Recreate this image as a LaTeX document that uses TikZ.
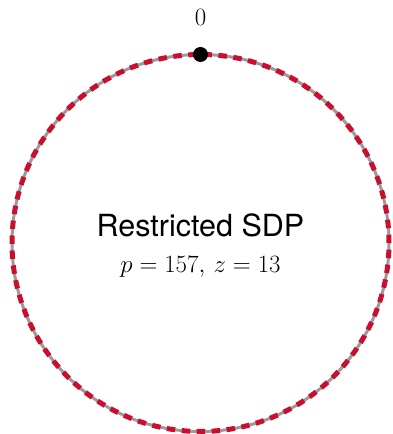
\documentclass[tikz,border=0pt]{standalone}
\usepackage{fontspec}
\setsansfont{TeX Gyre Heros}
\definecolor{ringred}{RGB}{200,16,46}
\definecolor{ringgrey}{RGB}{155,155,155}
\tikzset{
  ringbase/.style={draw=ringgrey, line width=3pt},
  ringdash/.style={draw=ringred, line width=5pt, dash pattern=on 8.5pt off 6.49pt, dash phase=-3pt},
  topdot/.style={circle, fill=black, inner sep=0pt, minimum size=15pt},
  lbl/.style={inner sep=0pt}
}
\begin{document}
\begin{tikzpicture}[x=1pt,y=1pt]
\useasboundingbox (0,0) rectangle (392,434);
\coordinate (c) at (200.5,191);
\draw[ringbase] (c) circle[radius=188.5pt];
\draw[ringdash] (200.5,379.5) arc[start angle=90, end angle=-270, radius=188.5pt];
\node[topdot] (d) at (200.5,379.5) {};
\node[lbl, font=\fontsize{28}{30}\selectfont] (zero) at (200.5,417) {$0$};
\node[lbl, font=\sffamily\fontsize{30.5}{34}\selectfont] (title) at (200.5,209) {Restricted SDP};
\node[lbl, font=\fontsize{29}{32}\selectfont] (sub) at (200.5,167) {$p = 157,\,z = 13$};
\end{tikzpicture}
\end{document}
